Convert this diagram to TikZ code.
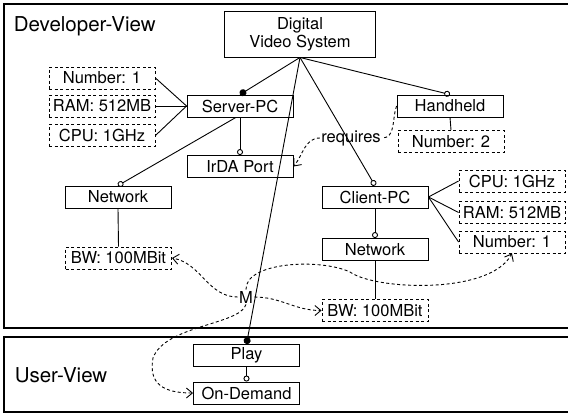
\documentclass[tikz,border=0pt]{standalone}
\usepackage{fontspec}
\setmainfont{TeX Gyre Heros}
\usetikzlibrary{arrows.meta}
\begin{document}
\begin{tikzpicture}[x=1pt, y=-1pt, line width=.9pt,
    font=\fontsize{16.5}{18}\selectfont,
    box/.style={draw, minimum width=106pt, minimum height=22pt, inner sep=0pt},
    attr/.style={box, dash pattern=on 3pt off 2.5pt},
    dep/.style={dash pattern=on 3pt off 2.5pt},
    view/.style={font=\fontsize{20.5}{22}\selectfont, anchor=west},
    >={Straight Barb[length=6pt, width=10pt]},
    dot/.style={-{Circle[length=7pt]}},
    ring/.style={-{Circle[open, length=6pt]}}]
\useasboundingbox (0,0) rectangle (568,413);
\clip (0,0) rectangle (568,413);
\draw[line width=1.2pt] (4,4) rectangle (580,328);
\draw[line width=1.2pt] (4,337) rectangle (580,412);
\node[view] (devview) at (10,26) {Developer-View};
\node[view] (userview) at (11,375) {User-View};

\node[box, minimum width=151pt, minimum height=46pt, align=center] (dvs) at (300,34) {Digital\\Video System};
\node[box] (server) at (240,106) {Server-PC};
\node[attr] (numL) at (102,78) {Number: 1};
\node[attr] (ramL) at (102,106) {RAM: 512MB};
\node[attr] (cpuL) at (102,135.5) {CPU: 1GHz};
\node[box] (irda) at (240,166.5) {IrDA Port};
\node[box] (netL) at (118,197) {Network};
\node[attr] (bwL) at (118.5,258) {BW: 100MBit};
\node[box] (handheld) at (450,106) {Handheld};
\node[attr] (num2) at (451,141.5) {Number: 2};
\node[box] (client) at (375,197) {Client-PC};
\node[attr] (cpuR) at (512,181) {CPU: 1GHz};
\node[attr] (ramR) at (512,212.5) {RAM: 512MB};
\node[attr] (numR) at (512,242) {Number: 1};
\node[box] (netR) at (375,249.5) {Network};
\node[attr] (bwR) at (375,310.5) {BW: 100MBit};
\node[box] (play) at (246.5,355.5) {Play};
\node[box] (ondemand) at (246.5,393) {On-Demand};

\draw[dot] (dvs.south) -- (server.north);
\draw[ring] (dvs.south) -- (handheld.north);
\draw[ring] (dvs.south) -- (client.north);
\draw[dot] (dvs.south) -- (play.north);
\draw (server.west) -- (numL.east);
\draw (server.west) -- (ramL.east);
\draw (server.west) -- (cpuL.east);
\draw[ring] (server.south) -- (irda.north);
\draw[ring] (server.250) -- (netL.north);
\draw (netL.south) -- (bwL.north);
\draw (handheld.south) -- (num2.north);
\draw (client.east) -- (cpuR.west);
\draw (client.east) -- (ramR.west);
\draw (client.east) -- (numR.west);
\draw[ring] (client.south) -- (netR.north);
\draw (netR.south) -- (bwR.north);
\draw[ring] (play.south) -- (ondemand.north);

\node[inner sep=1pt] (req) at (351,138) {requires};
\draw[dep] (handheld.west) to[out=-110, in=0] (req.east);
\draw[dep, ->] (req.west) to[out=180, in=50] (irda.east);

\node[inner sep=1pt] (m) at (246,297) {M};
\draw[dep, ->] (m.west) to[out=180, in=-10] (bwL.east);
\draw[dep, ->] (m.east) to[out=0, in=180] (bwR.west);
\draw[dep, ->] (m.south) .. controls (240,325) and (165,325) .. (153,358)
    .. controls (148,385) and (165,393) .. (ondemand.west);
\draw[dep, ->] (m.north) .. controls (245,262) and (320,258) .. (350,272)
    .. controls (375,290) and (490,295) .. (numR.south);
\end{tikzpicture}
\end{document}
